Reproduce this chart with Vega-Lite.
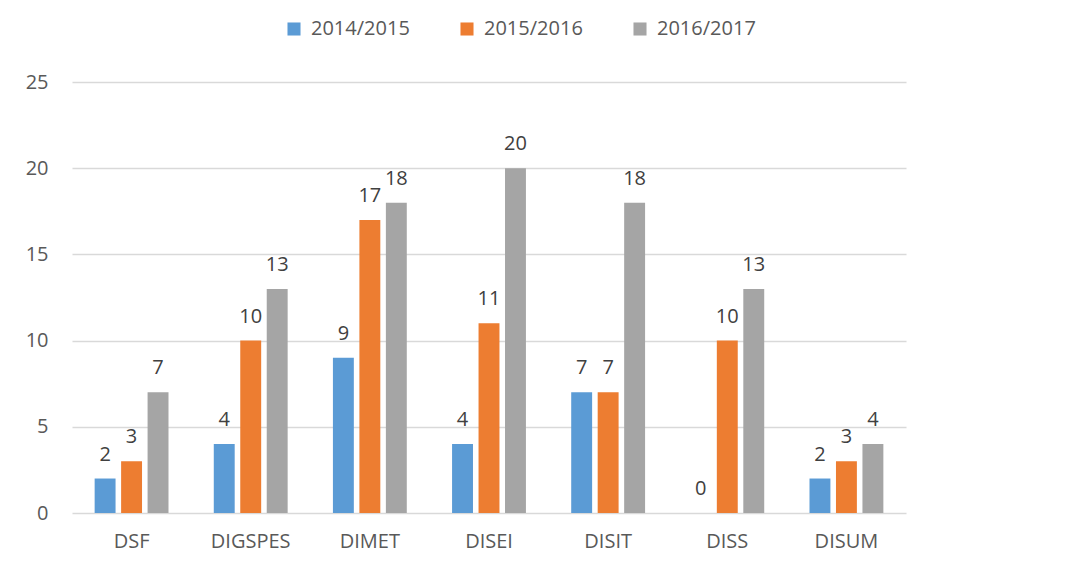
{
  "$schema": "https://vega.github.io/schema/vega-lite/v6.json",
  "width": 834,
  "height": 431,
  "autosize": "none",
  "padding": {"left": 72, "top": 82, "right": 182, "bottom": 53},
  "background": "white",
  "config": {
    "view": {"stroke": null},
    "font": "Open Sans",
    "axis": {"labelFont": "Open Sans", "labelColor": "#595959", "labelFontSize": 20}
  },
  "data": {
    "values": [
      {"dept": "DSF", "year": "2014/2015", "value": 2},
      {"dept": "DSF", "year": "2015/2016", "value": 3},
      {"dept": "DSF", "year": "2016/2017", "value": 7},
      {"dept": "DIGSPES", "year": "2014/2015", "value": 4},
      {"dept": "DIGSPES", "year": "2015/2016", "value": 10},
      {"dept": "DIGSPES", "year": "2016/2017", "value": 13},
      {"dept": "DIMET", "year": "2014/2015", "value": 9},
      {"dept": "DIMET", "year": "2015/2016", "value": 17},
      {"dept": "DIMET", "year": "2016/2017", "value": 18},
      {"dept": "DISEI", "year": "2014/2015", "value": 4},
      {"dept": "DISEI", "year": "2015/2016", "value": 11},
      {"dept": "DISEI", "year": "2016/2017", "value": 20},
      {"dept": "DISIT", "year": "2014/2015", "value": 7},
      {"dept": "DISIT", "year": "2015/2016", "value": 7},
      {"dept": "DISIT", "year": "2016/2017", "value": 18},
      {"dept": "DISS", "year": "2014/2015", "value": 0},
      {"dept": "DISS", "year": "2015/2016", "value": 10},
      {"dept": "DISS", "year": "2016/2017", "value": 13},
      {"dept": "DISUM", "year": "2014/2015", "value": 2},
      {"dept": "DISUM", "year": "2015/2016", "value": 3},
      {"dept": "DISUM", "year": "2016/2017", "value": 4}
    ]
  },
  "encoding": {
    "x": {
      "field": "dept", "type": "nominal", "sort": null,
      "scale": {"paddingInner": 0.38, "paddingOuter": 0.19},
      "axis": {"title": null, "labelAngle": 0, "ticks": false, "domain": false, "labelPadding": 18, "grid": false}
    },
    "xOffset": {
      "field": "year", "type": "nominal",
      "scale": {"paddingInner": 0.21, "paddingOuter": 0}
    },
    "y": {
      "field": "value", "type": "quantitative",
      "scale": {"domain": [0, 25]},
      "axis": {"title": null, "values": [0, 5, 10, 15, 20, 25], "ticks": false, "domain": false, "labelPadding": 24, "gridColor": "#d9d9d9", "gridWidth": 1.5}
    }
  },
  "layer": [
    {
      "mark": {"type": "bar"},
      "encoding": {
        "color": {
          "field": "year", "type": "nominal",
          "scale": {"domain": ["2014/2015", "2015/2016", "2016/2017"], "range": ["#5B9BD5", "#ED7D31", "#A5A5A5"]},
          "legend": {
            "title": null, "orient": "none", "legendX": 212, "legendY": -63,
            "direction": "horizontal", "symbolType": "square", "symbolSize": 170,
            "symbolStrokeWidth": 0, "labelFontSize": 20, "labelColor": "#595959",
            "labelFont": "Open Sans", "columnPadding": 47, "labelOffset": 7
          }
        }
      }
    },
    {
      "mark": {"type": "text", "baseline": "bottom", "dy": -14, "fontSize": 20, "color": "#404040", "font": "Open Sans"},
      "encoding": {"text": {"field": "value", "type": "quantitative"}}
    }
  ]
}
